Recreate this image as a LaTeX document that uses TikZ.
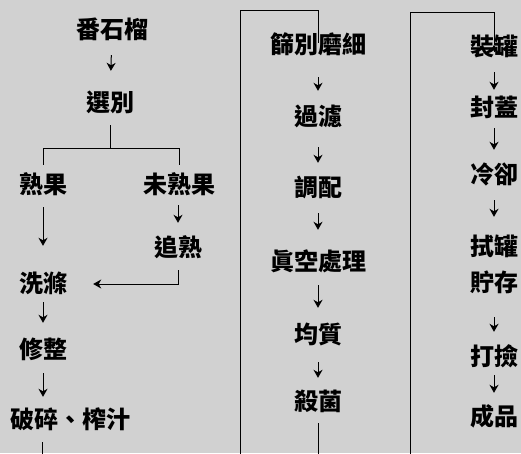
\documentclass[tikz,border=0pt]{standalone}
\usepackage{fontspec}
\newfontfamily\cjk{Noto Sans CJK TC}
\usetikzlibrary{arrows.meta}
\begin{document}
\begin{tikzpicture}[x=1pt,y=-1pt,
  lbl/.style={font=\cjk\bfseries\fontsize{24}{24}\selectfont, inner sep=0pt, text height=19pt, text depth=2pt},
  ln/.style={line width=1pt, black},
  arr/.style={ln, -{Stealth[length=8pt,width=9pt,inset=2.5pt]}}]
\fill[black!18] (0,0) rectangle (521,453);
\useasboundingbox (0,0) rectangle (521,453);
% column 1
\node[lbl] (fan) at (112,30) {番石榴};
\node[lbl] (xb) at (110,103) {選別};
\node[lbl] (shu) at (43,185) {熟果};
\node[lbl] (wei) at (179,185) {未熟果};
\node[lbl] (zhui) at (178,248) {追熟};
\node[lbl] (xi) at (43,284) {洗滌};
\node[lbl] (xz) at (43,350) {修整};
\node[lbl, anchor=west] (po) at (10,420) {破碎、榨汁};
\coordinate (br) at (110,148);
\coordinate (b1) at (42,470);
\coordinate (d1) at (240,10);
\coordinate (b2) at (318,470);
\coordinate (d2) at (410,12);
% column 2
\node[lbl] (sai) at (318,45) {篩別磨細};
\node[lbl] (guo) at (318,117) {過濾};
\node[lbl] (tiao) at (318,188) {調配};
\node[lbl] (zhen) at (318,262) {眞空處理};
\node[lbl] (jun) at (318,335) {均質};
\node[lbl] (sha) at (318,402) {殺菌};
% column 3
\node[lbl] (zhuang) at (494,47) {裝罐};
\node[lbl] (feng) at (494,108) {封蓋};
\node[lbl] (leng) at (494,175) {冷卻};
\node[lbl] (shi) at (494,247) {拭罐};
\node[lbl] (zhu) at (494,283) {貯存};
\node[lbl] (da) at (494,357) {打撿};
\node[lbl] (cheng) at (494,417) {成品};
% connectors column 1
\draw[arr, shorten <=14.5pt, shorten >=21.5pt] (fan) -- (xb);
\draw[ln, shorten <=11.5pt] (xb.south) -- (br);
\draw[ln, shorten >=9pt] (br) -| (shu.north);
\draw[ln, shorten >=9pt] (br) -| (wei.north);
\draw[arr, shorten <=9.5pt, shorten >=14.5pt] (wei.south -| zhui) -- (zhui.north);
\draw[arr, shorten <=11.5pt, shorten >=27.5pt] (shu) -- (xi);
\draw[arr, shorten <=11.5pt, shorten >=26pt] (zhui.south) |- (xi.east);
\draw[arr, shorten <=7.5pt, shorten >=16.5pt] (xi) -- (xz);
\draw[arr, shorten <=12.5pt, shorten >=12.5pt] (xz.south) -- (xz.south |- po.north);
\draw[ln, shorten <=11.5pt] (po.south -| b1) -- (b1) -| (d1) -| ([yshift=-9pt]sai.north);
% connectors column 2
\draw[arr, shorten <=21.5pt, shorten >=15.5pt] (sai) -- (guo);
\draw[arr, shorten <=19.5pt, shorten >=14.5pt] (guo) -- (tiao);
\draw[arr, shorten <=14.5pt, shorten >=21.5pt] (tiao) -- (zhen);
\draw[arr, shorten <=12.5pt, shorten >=16.5pt] (zhen) -- (jun);
\draw[arr, shorten <=16.5pt, shorten >=13.5pt] (jun) -- (sha);
\draw[ln, shorten <=10.5pt] (sha.south) -- (b2) -| (d2) -| ([yshift=-8.5pt]zhuang.north);
\draw[arr] ([yshift=-16pt]zhuang.north) -- ([yshift=-8.5pt]zhuang.north);
% connectors column 3
\draw[arr, shorten <=14.5pt, shorten >=7.5pt] (zhuang) -- (feng);
\draw[arr, shorten <=9.5pt, shorten >=14.5pt] (feng) -- (leng);
\draw[arr, shorten <=14.5pt, shorten >=19.5pt] (leng) -- (shi);
\draw[arr, shorten <=23.5pt, shorten >=14.5pt] (zhu) -- (da);
\draw[arr, shorten <=7.5pt, shorten >=13.5pt] (da) -- (cheng);
\end{tikzpicture}
\end{document}
